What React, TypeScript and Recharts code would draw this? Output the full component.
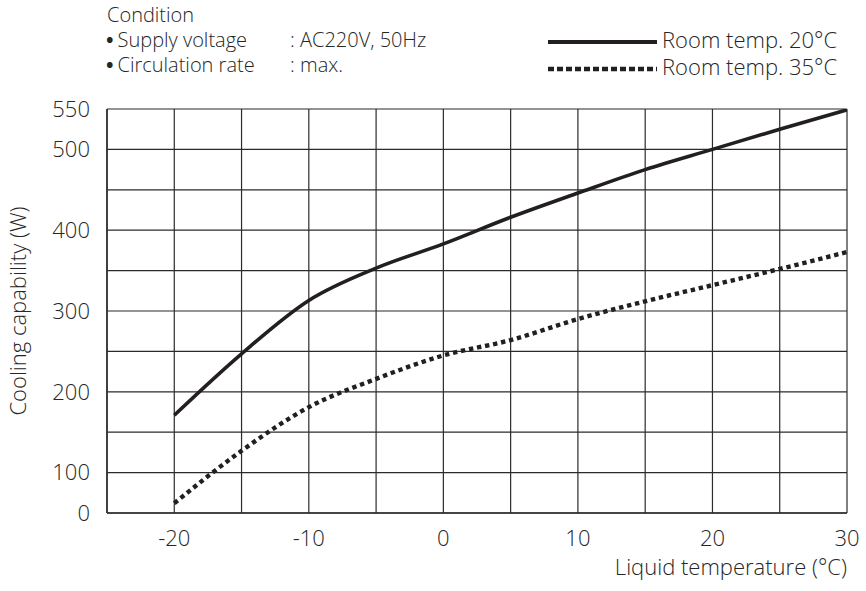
import React from 'react';
import { LineChart, Line, XAxis, YAxis, CartesianGrid, Label } from 'recharts';

// Liquid temperature (°C)
const TEMPS = [-20, -15, -10, -5, 0, 5, 10, 15, 20, 25, 30];
// Cooling capability (W), room temp. 20°C
const ROOM_20 = [171, 247, 313, 353, 383, 416, 446, 475, 500, 525, 549];
// Cooling capability (W), room temp. 35°C
const ROOM_35 = [24, 127, 181, 216, 245, 264, 290, 312, 332, 352, 373];

const X_TICKS = [-25, -20, -15, -10, -5, 0, 5, 10, 15, 20, 25, 30];
const X_LABELS = [-20, -10, 0, 10, 20, 30];
const Y_TICKS = [0, 100, 150, 200, 250, 300, 350, 400, 450, 500, 550];
const Y_LABELS = [0, 100, 200, 300, 400, 500, 550];

const SERIES_NAMES = ['Room temp. 20°C', 'Room temp. 35°C'];
const CONDITIONS = [
  ['Supply voltage', ': AC220V, 50Hz'],
  ['Circulation rate', ': max.'],
];

// The y axis has a break: 0–100 W spans one grid step, same as 50 W above 100 W.
const warp = (w: number) => (w < 100 ? 50 + w / 2 : w);
const unwarp = (v: number) => (v < 100 ? (v - 50) * 2 : v);

const data = TEMPS.map((t, i) => ({ t, r20: ROOM_20[i], r35: ROOM_35[i] }));

const FONT = "'Open Sans', 'Noto Sans', sans-serif";
const TXT = '#262626';
const INK = '#231f20';
const FS = 22;
const HFS = 20;
const FW = 300;

const XTitle = (props: any) => {
  const vb = props.viewBox || {};
  return (
    <text x={vb.x + vb.width} y={vb.y + 62} textAnchor="end" fill={TXT} fontSize={FS} fontWeight={FW} fontFamily={FONT}>
      Liquid temperature (°C)
    </text>
  );
};

const YTitle = (props: any) => {
  const vb = props.viewBox || {};
  const cx = 26;
  const cy = vb.y + vb.height / 2;
  return (
    <text x={cx} y={cy} textAnchor="middle" transform={`rotate(-90 ${cx} ${cy})`} fill={TXT} fontSize={FS} fontWeight={FW} fontFamily={FONT}>
      Cooling capability (W)
    </text>
  );
};

export default function App() {
  return (
    <div style={{ position: 'absolute', left: 0, top: 0, width: 866, height: 591, background: '#fff' }}>
      <LineChart width={866} height={591} data={data} margin={{ top: 109, right: 19, bottom: 48, left: 0 }}>
        <CartesianGrid stroke="#2b2b2b" strokeWidth={1.2} fill="none" />
        <XAxis
          dataKey="t"
          type="number"
          domain={[-25, 30]}
          ticks={X_TICKS}
          interval={0}
          allowDataOverflow
          tickFormatter={(v: number) => (X_LABELS.includes(v) ? String(v) : '')}
          height={30}
          tickLine={false}
          tickSize={6}
          tickMargin={11}
          axisLine={{ stroke: '#2b2b2b', strokeWidth: 1.5 }}
          tick={{ fill: TXT, fontSize: FS, fontWeight: FW, fontFamily: FONT }}
        >
          <Label content={XTitle} />
        </XAxis>
        <YAxis
          type="number"
          domain={[warp(0), warp(550)]}
          ticks={Y_TICKS.map(warp)}
          interval={0}
          allowDataOverflow
          tickFormatter={(v: number) => {
            const w = Math.round(unwarp(v));
            return Y_LABELS.includes(w) ? String(w) : '';
          }}
          width={107}
          tickLine={false}
          tickSize={6}
          tickMargin={11}
          axisLine={{ stroke: '#2b2b2b', strokeWidth: 1.5 }}
          tick={{ fill: TXT, fontSize: FS, fontWeight: FW, fontFamily: FONT }}
        >
          <Label content={YTitle} />
        </YAxis>
        <Line
          name={SERIES_NAMES[0]}
          type="monotone"
          dataKey={(d: any) => warp(d.r20)}
          stroke={INK}
          strokeWidth={3.6}
          dot={false}
          activeDot={false}
          isAnimationActive={false}
        />
        <Line
          name={SERIES_NAMES[1]}
          type="monotone"
          dataKey={(d: any) => warp(d.r35)}
          stroke={INK}
          strokeWidth={4.4}
          strokeDasharray="4.4 3.8"
          dot={false}
          activeDot={false}
          isAnimationActive={false}
        />
      </LineChart>
      <svg
        width={866}
        height={100}
        style={{ position: 'absolute', left: 0, top: 0, pointerEvents: 'none' }}
      >
        <text fill={TXT} fontSize={HFS} fontWeight={FW} fontFamily={FONT}>
          <tspan x={107} y={22}>Condition</tspan>
          {CONDITIONS.map((c, i) => (
            <React.Fragment key={i}>
              <tspan x={106} y={47 + i * 25} fontWeight={700}>•</tspan>
              <tspan dx={4}>{c[0]}</tspan>
              <tspan x={290} y={47 + i * 25}>{c[1]}</tspan>
            </React.Fragment>
          ))}
        </text>
        <text fill={TXT} fontSize={FS} fontWeight={FW} fontFamily={FONT}>
          {SERIES_NAMES.map((n, i) => (
            <tspan key={n} x={662} y={48 + i * 27}>{n}</tspan>
          ))}
        </text>
        <line x1={548} x2={657} y1={42} y2={42} stroke={INK} strokeWidth={4} />
        <line x1={548} x2={657} y1={69} y2={69} stroke={INK} strokeWidth={4.5} strokeDasharray="6 3" />
      </svg>
    </div>
  );
}
